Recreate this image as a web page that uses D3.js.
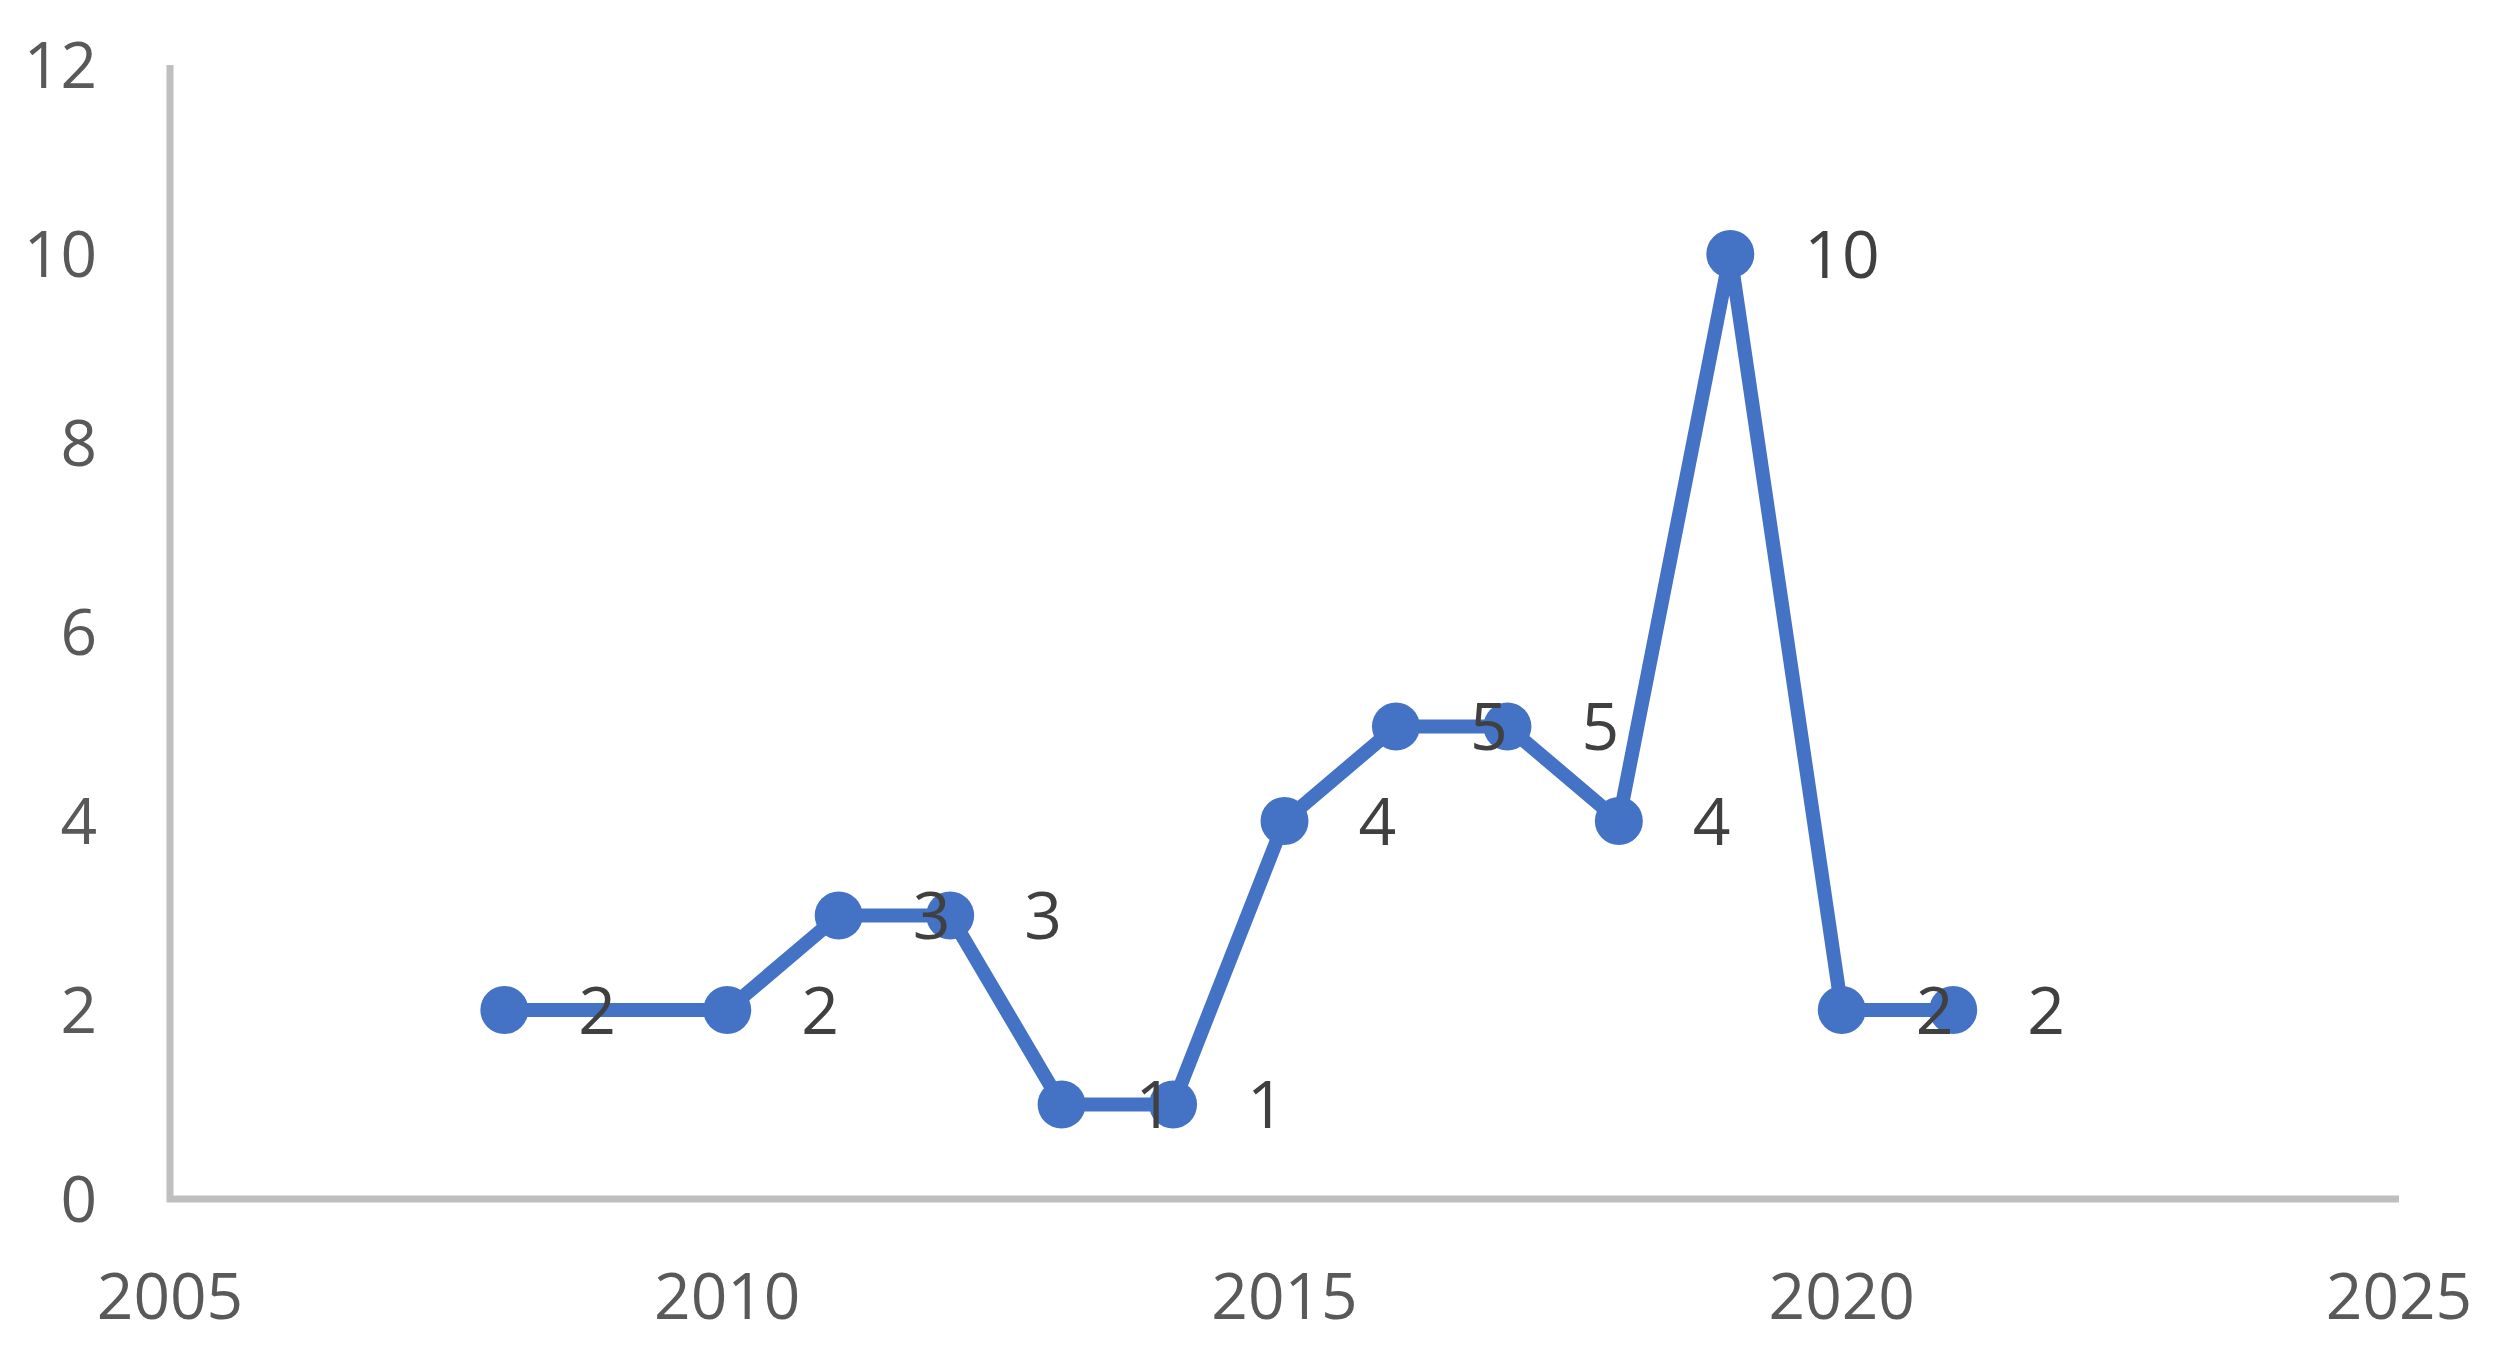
<!DOCTYPE html>
<html><head><meta charset="utf-8">
<script src="https://cdn.jsdelivr.net/npm/d3@7"></script>
<style>html,body{margin:0;padding:0;background:#fff;}</style>
</head><body>
<script>
const years = [2008, 2010, 2011, 2012, 2013, 2014, 2015, 2016, 2017, 2018, 2019, 2020, 2021];
const counts = [2, 2, 3, 3, 1, 1, 4, 5, 5, 4, 10, 2, 2];
const xTicks = [2005, 2010, 2015, 2020, 2025];
const yTicks = [0, 2, 4, 6, 8, 10, 12];

const W = 2494, H = 1359;
const svg = d3.select("body").append("svg").attr("width", W).attr("height", H);
const x = d3.scaleLinear().domain([2005, 2025]).range([170, 2399]);
const y = d3.scaleLinear().domain([0, 12]).range([1199, 65]);
const font = "'Open Sans', 'Noto Sans', sans-serif";

// axes lines
svg.append("line").attr("x1", x(2005)).attr("x2", x(2005)).attr("y1", y(12)).attr("y2", y(0) + 3)
  .attr("stroke", "#BFBFBF").attr("stroke-width", 7);
svg.append("line").attr("x1", x(2005) - 3).attr("x2", x(2025)).attr("y1", y(0)).attr("y2", y(0))
  .attr("stroke", "#BFBFBF").attr("stroke-width", 7);

// y tick labels
svg.append("g").selectAll("text").data(yTicks).join("text")
  .attr("x", 97).attr("y", d => y(d)).attr("dy", "0.36em")
  .attr("text-anchor", "end").attr("font-family", font).attr("font-size", 64)
  .attr("fill", "#595959").text(d => d);

// x tick labels
svg.append("g").selectAll("text").data(xTicks).join("text")
  .attr("x", d => x(d)).attr("y", 1296).attr("dy", "0.36em")
  .attr("text-anchor", "middle").attr("font-family", font).attr("font-size", 64)
  .attr("fill", "#595959").text(d => d);

const data = years.map((yr, i) => ({yr, v: counts[i]}));
svg.append("path").datum(data)
  .attr("d", d3.line().x(d => x(d.yr)).y(d => y(d.v)))
  .attr("fill", "none").attr("stroke", "#4472C4").attr("stroke-width", 14)
  .attr("stroke-linejoin", "round");
svg.append("g").selectAll("circle").data(data).join("circle")
  .attr("cx", d => x(d.yr)).attr("cy", d => y(d.v)).attr("r", 24)
  .attr("fill", "#4472C4");
svg.append("g").selectAll("text").data(data).join("text")
  .attr("x", d => x(d.yr) + 74).attr("y", d => y(d.v)).attr("dy", "0.36em")
  .attr("text-anchor", "start").attr("font-family", font).attr("font-size", 66)
  .attr("fill", "#404040").text(d => d.v);
</script>
</body></html>
